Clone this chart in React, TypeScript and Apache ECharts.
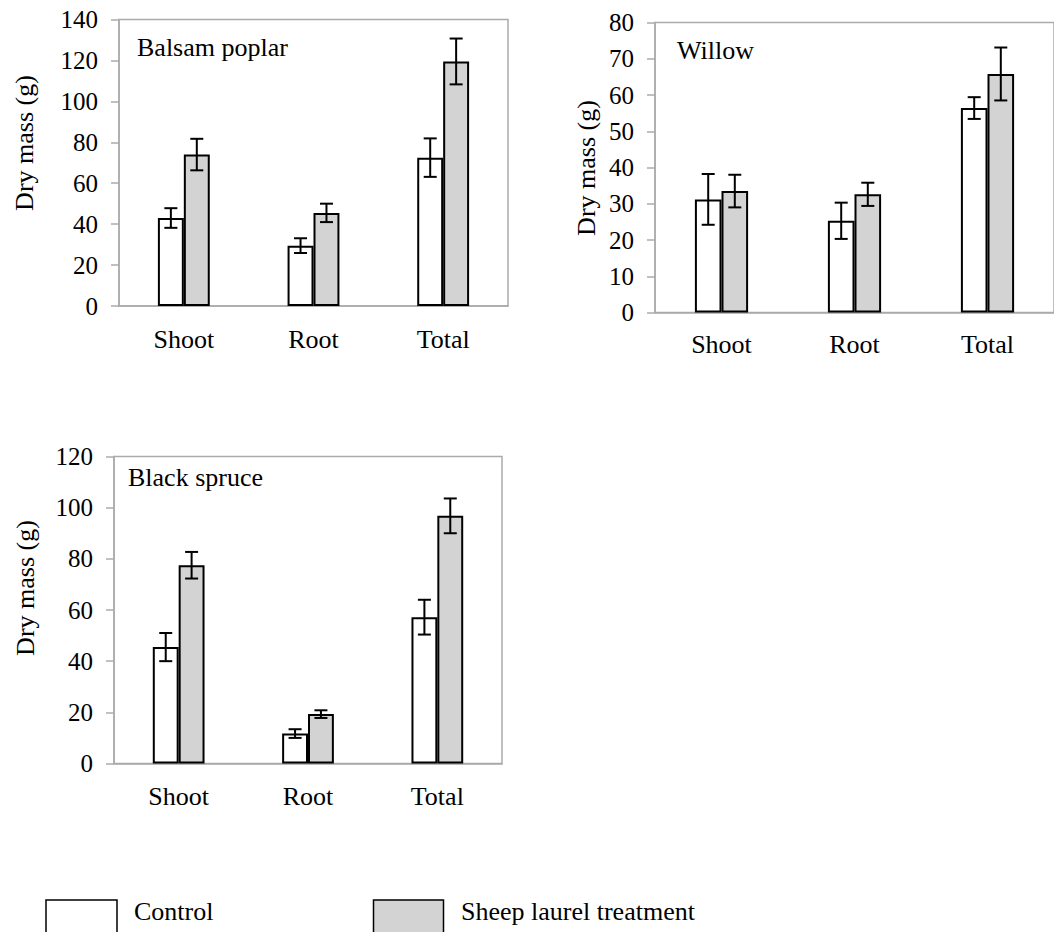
import React, { useEffect, useRef } from "react";
import * as echarts from "echarts";

const categories = ["Shoot", "Root", "Total"];

const poplarControl = [43, 29.5, 72.5];
const poplarControlErr = [4.8, 3.6, 9.4];
const poplarTreat = [74, 45.5, 119.5];
const poplarTreatErr = [7.7, 4.5, 11.2];

const willowControl = [31.2, 25.3, 56.4];
const willowControlErr = [7, 5, 3];
const willowTreat = [33.5, 32.6, 65.8];
const willowTreatErr = [4.5, 3.2, 7.3];

const spruceControl = [45.5, 11.7, 57.2];
const spruceControlErr = [5.5, 1.7, 6.8];
const spruceTreat = [77.5, 19.3, 96.8];
const spruceTreatErr = [5.2, 1.5, 6.8];

const panelTitles = ["Balsam poplar", "Willow", "Black spruce"];
const yMax = [140, 80, 120];
const yInterval = [20, 10, 20];
const yTitle = "Dry mass (g)";
const legendNames = ["Control", "Sheep laurel treatment"];

const FONT = "serif";
const GREY = "#ababab";
const TREAT_FILL = "#d3d3d3";

export default function App() {
  const ref = useRef<HTMLDivElement>(null);

  useEffect(() => {
    document.body.style.margin = "0";
    if (!ref.current) return;
    const chart = echarts.init(ref.current, null, { renderer: "svg" });

    const grids = [
      { left: 119, top: 19.5, width: 389, height: 286.5 },
      { left: 655, top: 22.5, width: 406.5, height: 290 },
      { left: 114, top: 456.5, width: 388, height: 307 },
    ];
    const labelMargins = [20, 19, 20];

    const panels = [
      [poplarControl, poplarControlErr, poplarTreat, poplarTreatErr],
      [willowControl, willowControlErr, willowTreat, willowTreatErr],
      [spruceControl, spruceControlErr, spruceTreat, spruceTreatErr],
    ];

    const errRender = (params: any, api: any) => {
      const ci = api.value(0);
      const v = api.value(1);
      const e = api.value(2);
      const off = api.value(3);
      const band = api.size([1, 0])[0];
      const c = api.coord([ci, v]);
      const x = c[0] + off * band * 0.1;
      const top = api.coord([ci, v + e])[1];
      const bot = api.coord([ci, v - e])[1];
      const hw = 6.5;
      const st = { stroke: "#000", lineWidth: 2 };
      return {
        type: "group",
        children: [
          { type: "line", shape: { x1: x, y1: top, x2: x, y2: bot }, style: st },
          { type: "line", shape: { x1: x - hw, y1: top, x2: x + hw, y2: top }, style: st },
          { type: "line", shape: { x1: x - hw, y1: bot, x2: x + hw, y2: bot }, style: st },
        ],
      };
    };

    const series: any[] = [];
    panels.forEach((p, i) => {
      const [ctrl, ctrlE, trt, trtE] = p;
      series.push({
        type: "bar",
        name: legendNames[0],
        xAxisIndex: i,
        yAxisIndex: i,
        data: ctrl,
        barWidth: "20%",
        barGap: "0%",
        itemStyle: { color: "#ffffff", borderColor: "#000", borderWidth: 2 },
      });
      series.push({
        type: "bar",
        name: legendNames[1],
        xAxisIndex: i,
        yAxisIndex: i,
        data: trt,
        barWidth: "20%",
        barGap: "0%",
        itemStyle: { color: TREAT_FILL, borderColor: "#000", borderWidth: 2 },
      });
      const errData = [
        ...ctrl.map((v, k) => [k, v, ctrlE[k], -1]),
        ...trt.map((v, k) => [k, v, trtE[k], 1]),
      ];
      series.push({
        type: "custom",
        xAxisIndex: i,
        yAxisIndex: i,
        renderItem: errRender,
        data: errData,
        encode: { x: 0, y: 1 },
        z: 10,
      });
    });

    const titlePos = [
      { x: 137, y: 47 },
      { x: 677, y: 50 },
      { x: 128, y: 477 },
    ];
    const yTitlePos = [
      { x: 24, y: 143 },
      { x: 586, y: 168 },
      { x: 25, y: 588 },
    ];

    const graphic: any[] = [];
    panelTitles.forEach((t, i) => {
      graphic.push({
        type: "text",
        x: titlePos[i].x,
        y: titlePos[i].y,
        style: {
          text: t,
          fontFamily: FONT,
          fontSize: 26,
          fill: "#000",
          textAlign: "left",
          textVerticalAlign: "middle",
        },
      });
      graphic.push({
        type: "text",
        x: yTitlePos[i].x,
        y: yTitlePos[i].y,
        rotation: Math.PI / 2,
        style: {
          text: yTitle,
          fontFamily: FONT,
          fontSize: 26,
          fill: "#000",
          textAlign: "center",
          textVerticalAlign: "middle",
        },
      });
    });
    graphic.push({
      type: "rect",
      shape: { x: 46, y: 900, width: 71, height: 50 },
      style: { fill: "#fff", stroke: "#000", lineWidth: 1.5 },
    });
    graphic.push({
      type: "rect",
      shape: { x: 373.5, y: 900, width: 70, height: 50 },
      style: { fill: TREAT_FILL, stroke: "#000", lineWidth: 1.5 },
    });
    graphic.push({
      type: "text",
      x: 134,
      y: 911,
      style: { text: legendNames[0], fontFamily: FONT, fontSize: 26, fill: "#000", textVerticalAlign: "middle" },
    });
    graphic.push({
      type: "text",
      x: 461,
      y: 911,
      style: { text: legendNames[1], fontFamily: FONT, fontSize: 26, fill: "#000", textVerticalAlign: "middle" },
    });

    chart.setOption({
      animation: false,
      grid: grids.map((g) => ({
        ...g,
        show: true,
        borderColor: GREY,
        borderWidth: 1.5,
        containLabel: false,
      })),
      xAxis: grids.map((_, i) => ({
        type: "category",
        gridIndex: i,
        data: categories,
        axisLine: { show: true, lineStyle: { color: GREY, width: 1.5 } },
        axisTick: { show: false },
        axisLabel: {
          color: "#000",
          fontFamily: FONT,
          fontSize: 26,
          margin: labelMargins[i],
        },
        splitLine: { show: false },
      })),
      yAxis: grids.map((_, i) => ({
        type: "value",
        gridIndex: i,
        min: 0,
        max: yMax[i],
        interval: yInterval[i],
        axisLine: { show: true, lineStyle: { color: GREY, width: 1.5 } },
        axisTick: { show: true, inside: false, length: 8, lineStyle: { color: GREY, width: 1.5 } },
        axisLabel: { color: "#000", fontFamily: FONT, fontSize: 25, margin: 21 },
        splitLine: { show: false },
      })),
      series,
      graphic,
    });

    return () => {
      chart.dispose();
    };
  }, []);

  return <div ref={ref} style={{ width: 1054, height: 932 }} />;
}
